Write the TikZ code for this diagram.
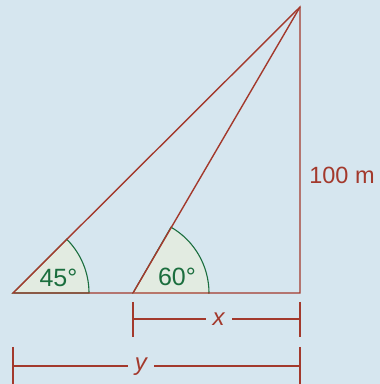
\documentclass[tikz,border=0pt]{standalone}
\usepackage{fontspec}
\setmainfont{Liberation Sans}
\usetikzlibrary{calc}
\definecolor{bgblue}{HTML}{D6E6EF}
\definecolor{sidered}{HTML}{A3392C}
\definecolor{arcgreen}{HTML}{1B6E3E}
\definecolor{arcfill}{HTML}{E2EBE1}
\tikzset{
  side/.style={draw=sidered, line width=1.4pt},
  angarc/.style={draw=arcgreen, fill=arcfill, line width=1.1pt},
  anglab/.style={text=arcgreen, font=\fontsize{25}{28}\selectfont, inner sep=0pt},
  dimlab/.style={text=sidered, font=\fontsize{24}{28}\selectfont\itshape, fill=bgblue, inner xsep=7pt, inner ysep=0pt},
}
\begin{document}
\begin{tikzpicture}[x=1pt,y=1pt]
\fill[bgblue] (0,0) rectangle (380,384);
\useasboundingbox (0,0) rectangle (380,384);

\coordinate (A) at (13,91);
\coordinate (B) at (133,91);
\coordinate (C) at (300,91);
\coordinate (D) at (300,377);

% angles
\filldraw[angarc] (A) -- ++(76,0) arc (0:45:76) -- cycle;
\filldraw[angarc] (B) -- ++(76,0) arc (0:60:76) -- cycle;
\draw[draw=arcfill, line width=1.4pt] (A) -- ++(45:75);
\draw[draw=arcfill, line width=1.4pt] (B) -- ++(0:75);

% triangle
\draw[side] (A) -- (C) -- (D) -- cycle;
\draw[side] (B) -- (D);

\node[anglab] (a45) at (58.5,106.5) {45°};
\node[anglab] (a60) at (177,107) {60°};
\node[text=sidered, font=\fontsize{23.5}{28}\selectfont, inner sep=0pt] (h) at (342,209) {100 m};

% dimension x
\coordinate (xl) at (133,65);
\coordinate (xr) at (300,65);
\draw[side] (133,82) -- (133,47);
\draw[side] (300,82) -- (300,47);
\draw[side] (xl) -- (xr);
\node[dimlab] (xlab) at (218.5,65) {x};

% dimension y
\coordinate (yl) at (13,18);
\coordinate (yr) at (300,18);
\draw[side] (13,37) -- (13,0);
\draw[side] (300,37) -- (300,0);
\draw[side] (yl) -- (yr);
\node[dimlab] (ylab) at (141,17) {y};

\end{tikzpicture}
\end{document}
